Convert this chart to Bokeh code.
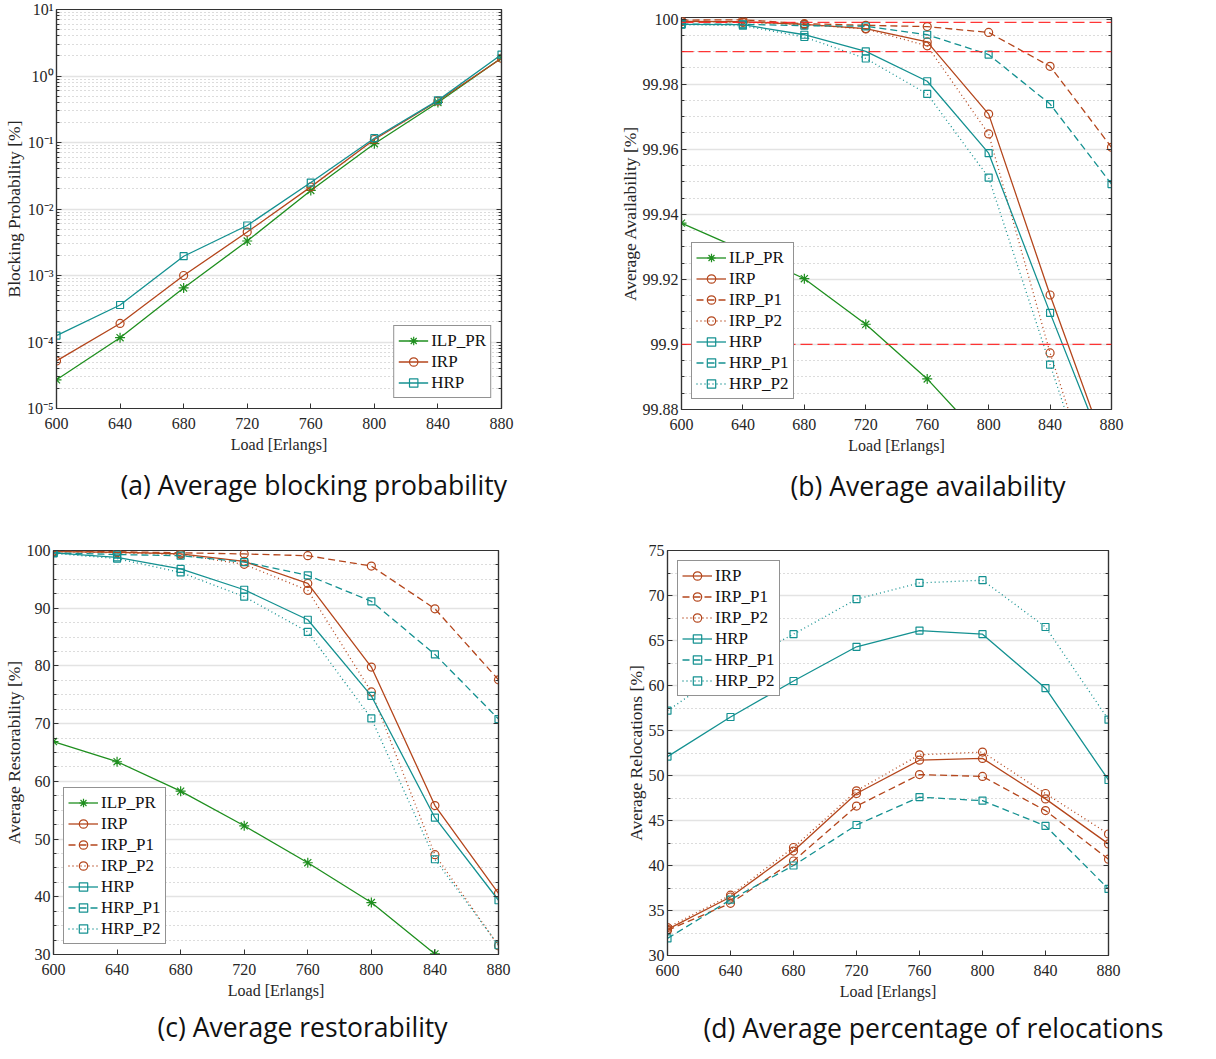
import numpy as np
from bokeh.plotting import figure
from bokeh.layouts import column, row
from bokeh.models import (FixedTicker, LinearAxis, LogAxis, CustomJSTickFormatter,
                          Legend, LegendItem, Span, Title, Range1d, Spacer)
from bokeh.embed import file_html
from bokeh.resources import INLINE

# ---------------- data ----------------
loads = [600, 640, 680, 720, 760, 800, 840, 880]

# (a) blocking probability [%]
bp_ilp_pr = [2.7e-5, 1.16e-4, 6.5e-4, 3.3e-3, 1.9e-2, 9.6e-2, 0.40, 1.86]
bp_irp = [5.2e-5, 1.9e-4, 1.0e-3, 4.5e-3, 2.15e-2, 0.111, 0.42, 1.85]
bp_hrp = [1.25e-4, 3.6e-4, 1.95e-3, 5.65e-3, 2.5e-2, 0.116, 0.43, 2.1]

# (b) availability [%]
av_ilp_pr = [99.9373, 99.929, 99.9202, 99.9062, 99.8894, 99.8690, 99.850, 99.825]
av_irp = [99.9993, 99.9992, 99.9984, 99.9971, 99.9930, 99.9708, 99.9152, 99.863]
av_irp_p1 = [99.9997, 99.9998, 99.9986, 99.9981, 99.9977, 99.9959, 99.9855, 99.9606]
av_irp_p2 = [99.9993, 99.9990, 99.9983, 99.9970, 99.9918, 99.9647, 99.8974, 99.839]
av_hrp = [99.9984, 99.9983, 99.9952, 99.9901, 99.9809, 99.9588, 99.9097, 99.862]
av_hrp_p1 = [99.9985, 99.9984, 99.9980, 99.9978, 99.9952, 99.9891, 99.9739, 99.9493]
av_hrp_p2 = [99.9983, 99.9980, 99.9945, 99.9879, 99.9770, 99.9513, 99.8938, 99.837]
avail_thresholds = [99.999, 99.99, 99.9]

# (c) restorability [%]
rs_ilp_pr = [66.9, 63.4, 58.3, 52.3, 45.9, 39.0, 30.1, 21.0]
rs_irp = [99.8, 99.7, 99.4, 98.1, 94.3, 79.8, 55.8, 40.6]
rs_irp_p1 = [99.9, 99.8, 99.6, 99.4, 99.1, 97.3, 89.9, 77.6]
rs_irp_p2 = [99.8, 99.6, 99.3, 97.6, 93.1, 75.5, 47.3, 31.5]
rs_hrp = [99.6, 98.8, 96.8, 93.2, 88.0, 74.8, 53.7, 39.4]
rs_hrp_p1 = [99.6, 99.3, 99.1, 98.0, 95.7, 91.2, 82.0, 70.8]
rs_hrp_p2 = [99.5, 98.6, 96.2, 92.0, 85.9, 70.9, 46.5, 31.6]

# (d) relocations [%]
rl_irp = [32.9, 36.5, 41.6, 48.0, 51.7, 51.9, 47.4, 42.4]
rl_irp_p1 = [32.8, 35.8, 40.5, 46.6, 50.1, 49.9, 46.1, 40.7]
rl_irp_p2 = [33.1, 36.7, 42.0, 48.3, 52.3, 52.6, 48.0, 43.5]
rl_hrp = [52.1, 56.5, 60.5, 64.3, 66.1, 65.7, 59.7, 49.5]
rl_hrp_p1 = [31.9, 36.2, 40.0, 44.5, 47.6, 47.2, 44.4, 37.4]
rl_hrp_p2 = [57.2, 62.0, 65.7, 69.6, 71.4, 71.7, 66.5, 56.2]

# tick labels / positions
bp_ticks = [1e-5, 1e-4, 1e-3, 1e-2, 1e-1, 1e0, 1e1]
av_ticks = [99.88, 99.9, 99.92, 99.94, 99.96, 99.98, 100.0]
rs_ticks = [30, 40, 50, 60, 70, 80, 90, 100]
rl_ticks = [30, 35, 40, 45, 50, 55, 60, 65, 70, 75]

captions = ["(a) Average blocking probability", "(b) Average availability",
            "(c) Average restorability", "(d) Average percentage of relocations"]

# ---------------- style ----------------
SERIF = "Liberation Serif"
CAP_FONT = "Open Sans"
GREEN = "#1f8f1f"
BROWN = "#b4461c"
TEAL = "#149191"
AX = "#333333"

SOLID, DASH, DOT = "solid", "7 4", "1 3"

LOG_FMT = CustomJSTickFormatter(code="""
const e = Math.round(Math.log10(tick));
const sup = {'-':'\u207b','0':'\u2070','1':'\u00b9','2':'\u00b2','3':'\u00b3','4':'\u2074','5':'\u2075','6':'\u2076','7':'\u2077','8':'\u2078','9':'\u2079'};
return '10' + String(e).split('').map(c => sup[c]).join('');
""")
NUM_FMT = CustomJSTickFormatter(code="return String(Number(tick.toFixed(4)));")


def empty_fmt():
    return CustomJSTickFormatter(code="return '';")


def style_axis(ax, label=None, label_size="16px", tick_standoff=4, label_standoff=4):
    ax.axis_line_color = AX
    ax.axis_line_width = 1.2
    ax.major_tick_in = 5
    ax.major_tick_out = 0
    ax.minor_tick_in = 3
    ax.minor_tick_out = 0
    ax.major_tick_line_color = AX
    ax.minor_tick_line_color = AX
    ax.major_label_text_font = SERIF
    ax.major_label_text_font_size = "16px"
    ax.major_label_text_color = "#262626"
    ax.major_label_standoff = tick_standoff
    if label is not None:
        ax.axis_label = label
        ax.axis_label_text_font = SERIF
        ax.axis_label_text_font_size = label_size
        ax.axis_label_text_font_style = "normal"
        ax.axis_label_text_color = "#262626"
        ax.axis_label_standoff = label_standoff


def make_fig(fw, fh, left, right, top, bottom, y_range, yticks, yminor,
             ylabel, caption, cap_offset, cap_standoff, log=False):
    kw = dict(frame_width=fw, frame_height=fh, output_backend="svg", toolbar_location=None,
              min_border_left=left, min_border_right=right, min_border_top=top,
              min_border_bottom=bottom, x_range=Range1d(loads[0], loads[-1]),
              y_range=y_range)
    if log:
        kw["y_axis_type"] = "log"
    p = figure(**kw)
    p.title.visible = False
    p.xaxis.ticker = FixedTicker(ticks=loads, minor_ticks=[])
    p.yaxis.ticker = FixedTicker(ticks=yticks, minor_ticks=yminor)
    p.yaxis.formatter = LOG_FMT if log else NUM_FMT
    style_axis(p.xaxis[0], "Load [Erlangs]", "16px", tick_standoff=9, label_standoff=4)
    style_axis(p.yaxis[0], ylabel, "17.5px", tick_standoff=3, label_standoff=0)
    # mirrored right axis (MATLAB box with ticks)
    right_ax = (LogAxis if log else LinearAxis)(ticker=FixedTicker(ticks=yticks, minor_ticks=yminor),
                                                formatter=empty_fmt())
    style_axis(right_ax)
    right_ax.major_label_text_font_size = "0px"
    right_ax.major_label_standoff = 0
    p.add_layout(right_ax, "right")

    p.xgrid.grid_line_color = None
    p.ygrid.grid_line_color = "#e3e3e3"
    p.ygrid.grid_line_width = 1.3
    p.ygrid.minor_grid_line_color = "#b8b8b8"
    p.ygrid.minor_grid_line_dash = "1 3"
    p.ygrid.minor_grid_line_width = 1
    p.outline_line_color = AX
    p.outline_line_width = 1.2
    p.background_fill_color = "white"
    p.border_fill_color = "white"

    t = Title(text=caption, align="left", offset=cap_offset, text_font=CAP_FONT,
              text_font_size="26.5px", text_font_style="normal", text_color="#111111")
    try:
        t.standoff = cap_standoff
    except Exception:
        pass
    p.add_layout(t, "below")
    return p


def add_series(p, ys, color, dash, marker, name):
    r1 = p.line(loads, ys, line_color=color, line_width=1.3, line_dash=dash)
    size = 10 if marker == "asterisk" else (8 if marker == "circle" else 7)
    r2 = p.scatter(loads, ys, marker=marker, size=size, line_color=color,
                   fill_color=None, line_width=1.2)
    return LegendItem(label=name, renderers=[r1, r2])


def add_legend(p, items, location):
    lg = Legend(items=items, location=location, label_text_font=SERIF,
                label_text_font_size="17px", label_text_color="#111111",
                label_height=21, glyph_height=21, glyph_width=30, label_standoff=3,
                padding=4, spacing=0, margin=10, border_line_color="#262626",
                border_line_width=1.3, background_fill_color="white",
                background_fill_alpha=1.0)
    p.add_layout(lg)


def minor_lin(ticks, n):
    out = []
    for a, b in zip(ticks[:-1], ticks[1:]):
        step = (b - a) / n
        out += [a + k * step for k in range(1, n)]
    return out


def minor_log(ticks):
    out = []
    for t in ticks[:-1]:
        out += [t * k for k in range(2, 10)]
    return out


# ---------------- (a) ----------------
pa = make_fig(445, 399, 50, 105, 9, 124, Range1d(bp_ticks[0], bp_ticks[-1]),
              bp_ticks, minor_log(bp_ticks), "Blocking Probability [%]", captions[0], 64, 19,
              log=True)
items = [add_series(pa, bp_ilp_pr, GREEN, SOLID, "asterisk", "ILP_PR"),
         add_series(pa, bp_irp, BROWN, SOLID, "circle", "IRP"),
         add_series(pa, bp_hrp, TEAL, SOLID, "square", "HRP")]
add_legend(pa, items, "bottom_right")

# ---------------- (b) ----------------
pb = make_fig(430, 392, 75, 95, 17, 123, Range1d(av_ticks[0], av_ticks[-1] + 0.0005),
              av_ticks, minor_lin(av_ticks, 4), "Average Availability [%]", captions[1], 109, 19)
for v in avail_thresholds:
    pb.add_layout(Span(location=v, dimension="width", line_color="#ff2020",
                       line_alpha=0.9, line_dash="12 5", line_width=1.3))
items = [add_series(pb, av_ilp_pr, GREEN, SOLID, "asterisk", "ILP_PR"),
         add_series(pb, av_irp, BROWN, SOLID, "circle", "IRP"),
         add_series(pb, av_irp_p1, BROWN, DASH, "circle", "IRP_P1"),
         add_series(pb, av_irp_p2, BROWN, DOT, "circle", "IRP_P2"),
         add_series(pb, av_hrp, TEAL, SOLID, "square", "HRP"),
         add_series(pb, av_hrp_p1, TEAL, DASH, "square", "HRP_P1"),
         add_series(pb, av_hrp_p2, TEAL, DOT, "square", "HRP_P2")]
add_legend(pb, items, "bottom_left")

# ---------------- (c) ----------------
pc = make_fig(445, 404, 50, 105, 18, 89, Range1d(rs_ticks[0], rs_ticks[-1]),
              rs_ticks, minor_lin(rs_ticks, 4), "Average Restorability [%]", captions[2], 104, 11)
items = [add_series(pc, rs_ilp_pr, GREEN, SOLID, "asterisk", "ILP_PR"),
         add_series(pc, rs_irp, BROWN, SOLID, "circle", "IRP"),
         add_series(pc, rs_irp_p1, BROWN, DASH, "circle", "IRP_P1"),
         add_series(pc, rs_irp_p2, BROWN, DOT, "circle", "IRP_P2"),
         add_series(pc, rs_hrp, TEAL, SOLID, "square", "HRP"),
         add_series(pc, rs_hrp_p1, TEAL, DASH, "square", "HRP_P1"),
         add_series(pc, rs_hrp_p2, TEAL, DOT, "square", "HRP_P2")]
add_legend(pc, items, "bottom_left")

# ---------------- (d) ----------------
pd_ = make_fig(441, 405, 64, 95, 18, 88, Range1d(rl_ticks[0], rl_ticks[-1]),
               rl_ticks, minor_lin(rl_ticks, 2), "Average Relocations [%]", captions[3], 36, 11)
items = [add_series(pd_, rl_irp, BROWN, SOLID, "circle", "IRP"),
         add_series(pd_, rl_irp_p1, BROWN, DASH, "circle", "IRP_P1"),
         add_series(pd_, rl_irp_p2, BROWN, DOT, "circle", "IRP_P2"),
         add_series(pd_, rl_hrp, TEAL, SOLID, "square", "HRP"),
         add_series(pd_, rl_hrp_p1, TEAL, DASH, "square", "HRP_P1"),
         add_series(pd_, rl_hrp_p2, TEAL, DOT, "square", "HRP_P2")]
add_legend(pd_, items, "top_left")


def wrap(p):
    return column(Spacer(width=1, height=0), p)


layout = column(row(wrap(pa), wrap(pb)), row(wrap(pc), wrap(pd_)))
open("out.html", "w").write(file_html(layout, INLINE))
